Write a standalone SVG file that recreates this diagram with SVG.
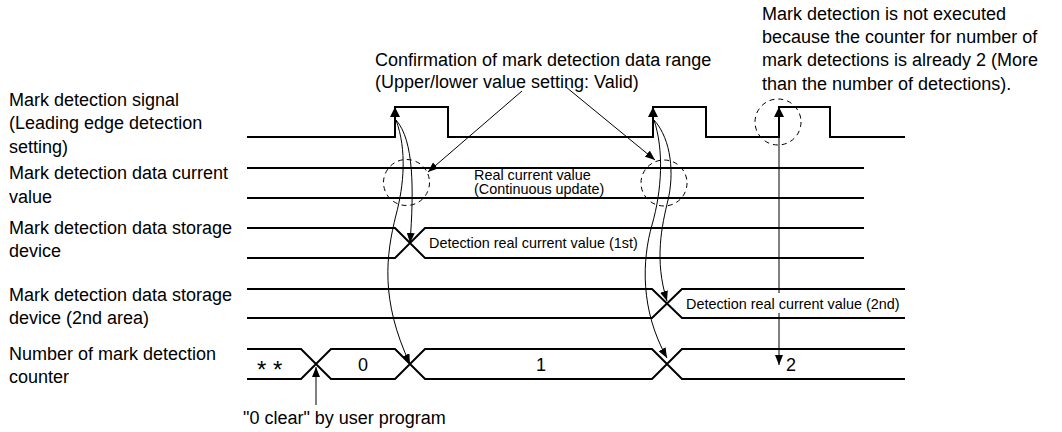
<svg xmlns="http://www.w3.org/2000/svg" width="1062" height="432" viewBox="0 0 1062 432">
<style>
text{font-family:"Liberation Sans",Arial,sans-serif;fill:#000}
.lb{font-size:18px}
.sm{font-size:14.4px}
.ast{font-size:24px}
.wave{fill:none;stroke:#000;stroke-width:2}
.thin{fill:none;stroke:#000;stroke-width:1}
.dash{fill:none;stroke:#000;stroke-width:1;stroke-dasharray:5 4}
</style>
<defs>
<marker id="ah" viewBox="0 0 10 8" refX="10" refY="4" markerWidth="10" markerHeight="8" markerUnits="userSpaceOnUse" orient="auto"><path d="M0,0 L10,4 L0,8z" fill="#000"/></marker>
<marker id="ahs" viewBox="0 0 10 10" refX="10" refY="5" markerWidth="10" markerHeight="10" markerUnits="userSpaceOnUse" orient="auto-start-reverse"><path d="M0,0 L10,5 L0,10z" fill="#000"/></marker>
</defs>
<rect width="1062" height="432" fill="#fff"/>

<g id="signal">
<text class="lb" x="9" y="106">Mark detection signal</text>
<text class="lb" x="9" y="129">(Leading edge detection</text>
<text class="lb" x="9" y="153">setting)</text>
<path class="wave" d="M247,137 H395 V107 H448 V137 H653 V107 H706 V137 H779 V107 H830 V137 H905"/>
</g>

<g id="current-value">
<text class="lb" x="9" y="179">Mark detection data current</text>
<text class="lb" x="9" y="203">value</text>
<path class="wave" d="M247,168 H864 M247,198 H864"/>
<text class="sm" x="474" y="179.5">Real current value</text>
<text class="sm" x="474" y="193.5">(Continuous update)</text>
</g>

<g id="storage">
<text class="lb" x="9" y="234">Mark detection data storage</text>
<text class="lb" x="9" y="257">device</text>
<path class="wave" d="M247,228 H395 L425,258 H864 M247,258 H395 L425,228 H864"/>
<text class="sm" x="429" y="248">Detection real current value (1st)</text>
</g>

<g id="storage-2nd">
<text class="lb" x="9" y="301">Mark detection data storage</text>
<text class="lb" x="9" y="324">device (2nd area)</text>
<path class="wave" d="M247,289 H652 L682,318 H905 M247,318 H652 L682,289 H905"/>
<text class="sm" x="686" y="308.5">Detection real current value (2nd)</text>
</g>

<g id="counter">
<text class="lb" x="9" y="360">Number of mark detection</text>
<text class="lb" x="9" y="383">counter</text>
<path class="wave" d="M247,349 H301 L331,379 H395 L425,349 H652 L682,379 H905 M247,379 H301 L331,349 H395 L425,379 H652 L682,349 H905"/>
<text class="ast" x="257" y="378">* *</text>
<text class="lb" x="358" y="371">0</text>
<text class="lb" x="536" y="371">1</text>
<text class="lb" x="786" y="371">2</text>
</g>

<g id="note-range">
<text class="lb" x="375" y="66">Confirmation of mark detection data range</text>
<text class="lb" x="375" y="88">(Upper/lower value setting: Valid)</text>
</g>

<g id="note-not-executed">
<text class="lb" x="762" y="20">Mark detection is not executed</text>
<text class="lb" x="762" y="43">because the counter for number of</text>
<text class="lb" x="762" y="66">mark detections is already 2 (More</text>
<text class="lb" x="762" y="90">than the number of detections).</text>
</g>

<g id="note-clear">
<text class="lb" x="243" y="424">"0 clear" by user program</text>
</g>

<g id="markers-circles">
<circle class="dash" cx="406.5" cy="182.5" r="23"/>
<circle class="dash" cx="664" cy="183" r="23"/>
<circle class="dash" cx="778" cy="122" r="23"/>
</g>

<g id="connectors">
<path class="thin" d="M395,137 V107" marker-end="url(#ahs)"/>
<path class="thin" d="M653,137 V107" marker-end="url(#ahs)"/>
<path class="thin" d="M779,293 V107" marker-end="url(#ahs)"/>
<path class="thin" d="M779,313 V365" marker-end="url(#ah)"/>
<path class="thin" d="M396,120 C414,140 414,190 410,243" marker-end="url(#ah)"/>
<path class="thin" d="M396,120 C407,150 404,185 396,215 C386,255 380,300 410,364" marker-end="url(#ah)"/>
<path class="thin" d="M654,120 C672,140 674,175 668,200 C662,225 654,260 667,301" marker-end="url(#ah)"/>
<path class="thin" d="M654,120 C664,150 662,190 652,225 C642,260 640,310 667,358" marker-end="url(#ah)"/>
<path class="thin" d="M522,91 L428,172" marker-end="url(#ah)"/>
<path class="thin" d="M566,87 L655,160" marker-end="url(#ah)"/>
<path class="thin" d="M316,405 V367" marker-end="url(#ah)"/>
</g>
</svg>
